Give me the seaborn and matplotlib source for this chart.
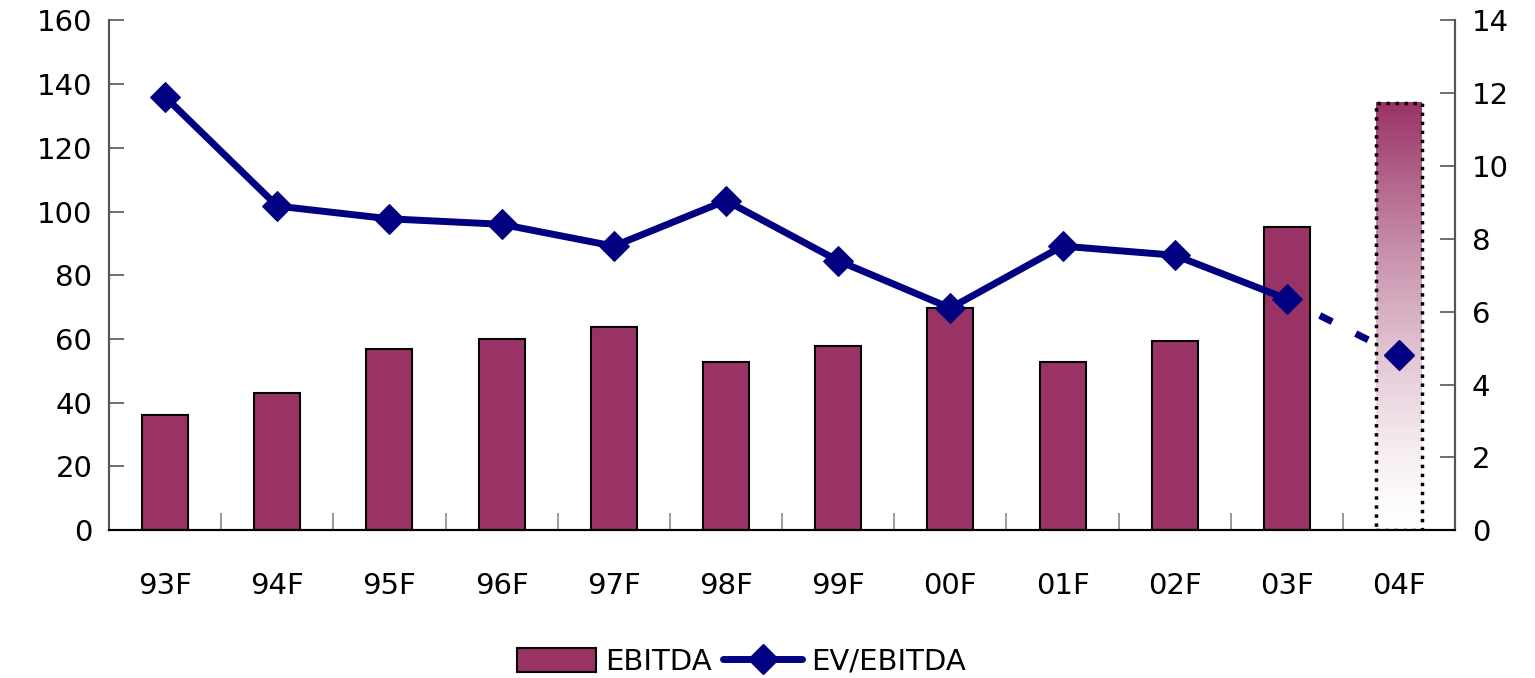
import numpy as np
import pandas as pd
import matplotlib
matplotlib.use('Agg')
import matplotlib.pyplot as plt
import seaborn as sns
from matplotlib.lines import Line2D
from matplotlib.patches import Patch
from matplotlib.colors import LinearSegmentedColormap

# Dados
anos = ['93F', '94F', '95F', '96F', '97F', '98F', '99F', '00F', '01F', '02F', '03F', '04F']
ebitda = [36, 43, 57, 60, 63.7, 52.7, 57.7, 69.6, 52.7, 59.3, 95, 134]
ev_ebitda = [11.9, 8.9, 8.55, 8.4, 7.8, 9.05, 7.4, 6.1, 7.8, 7.55, 6.35, 4.8]

cor_barra = '#993366'
cor_linha = '#000080'

sns.set_theme(style='white')
plt.rcParams['font.family'] = ['DejaVu Sans']
plt.rcParams['text.color'] = 'black'

df = pd.DataFrame({'ano': anos, 'ebitda': ebitda, 'ev': ev_ebitda})

fig, ax = plt.subplots(figsize=(15.35, 6.78), dpi=100)
fig.subplots_adjust(left=0.071, right=0.948, top=0.97, bottom=0.218)

sns.barplot(data=df, x='ano', y='ebitda', color=cor_barra, saturation=1,
            width=0.41, edgecolor='black', linewidth=1.5, ax=ax)

# Última barra (previsão): gradiente com borda pontilhada
ultima = ax.patches[len(anos) - 1]
ultima.set_facecolor('none')
ultima.set_edgecolor('black')
ultima.set_linestyle((0, (1, 1.6)))
ultima.set_linewidth(2.5)
x0, y0 = ultima.get_x(), ultima.get_y()
w, h = ultima.get_width(), ultima.get_height()
cmap = LinearSegmentedColormap.from_list('grad', ['white', cor_barra])
grad = (np.linspace(0, 1, 256) ** 1.4).reshape(-1, 1)
ax.imshow(grad, extent=(x0, x0 + w, y0, y0 + h), origin='lower', cmap=cmap,
          aspect='auto', zorder=ultima.get_zorder() - 0.1)
ax.set_xlim(-0.5, len(anos) - 0.5)

ax.set_ylim(0, 160)
ax.set_yticks(range(0, 161, 20))
ax.set_xlabel('')
ax.set_ylabel('')

ax2 = ax.twinx()
real = df.iloc[:-1]
sns.lineplot(x=np.arange(len(real)), y=real['ev'], color=cor_linha, lw=5,
             marker='D', markersize=15, markeredgecolor=cor_linha, ax=ax2)
ax2.plot(np.arange(len(anos))[-2:], ev_ebitda[-2:], color=cor_linha, lw=5,
         linestyle=(0.5, (2, 3.8)))
ax2.plot(len(anos) - 1, ev_ebitda[-1], marker='D', markersize=15,
         color=cor_linha, linestyle='none')
ax2.set_ylim(0, 14)
ax2.set_yticks(range(0, 15, 2))
ax2.set_ylabel('')

for a in (ax, ax2):
    a.spines['top'].set_visible(False)
    a.spines['left'].set_color('#555555')
    a.spines['right'].set_color('#555555')
    a.spines['bottom'].set_color('black')
    for s in a.spines.values():
        s.set_linewidth(1.5)

ax.tick_params(axis='y', direction='in', length=11, width=1.2, color='#555555',
               labelsize=21, pad=12, left=True, labelcolor='black')
ax2.tick_params(axis='y', direction='in', length=11, width=1.2, color='#555555',
                labelsize=21, pad=12, right=True, labelcolor='black')
ax.tick_params(axis='x', which='major', length=0, labelsize=21, pad=30,
               labelcolor='black')
ax.set_xticks(np.arange(len(anos) + 1) - 0.5, minor=True)
ax.tick_params(axis='x', which='minor', direction='in', length=12, width=1.2,
               color='#888888', bottom=True)

handles = [Patch(facecolor=cor_barra, edgecolor='black', linewidth=1.5),
           Line2D([], [], color=cor_linha, lw=5, marker='D', markersize=15,
                  solid_capstyle='round')]
fig.legend(handles, ['EBITDA', 'EV/EBITDA'], loc='center', ncol=2,
           bbox_to_anchor=(0.483, 0.024), frameon=False, fontsize=21,
           labelcolor='black', handlelength=2.7, handleheight=0.9,
           handletextpad=0.3, columnspacing=0.4)

fig.savefig('out.png', dpi=100)
